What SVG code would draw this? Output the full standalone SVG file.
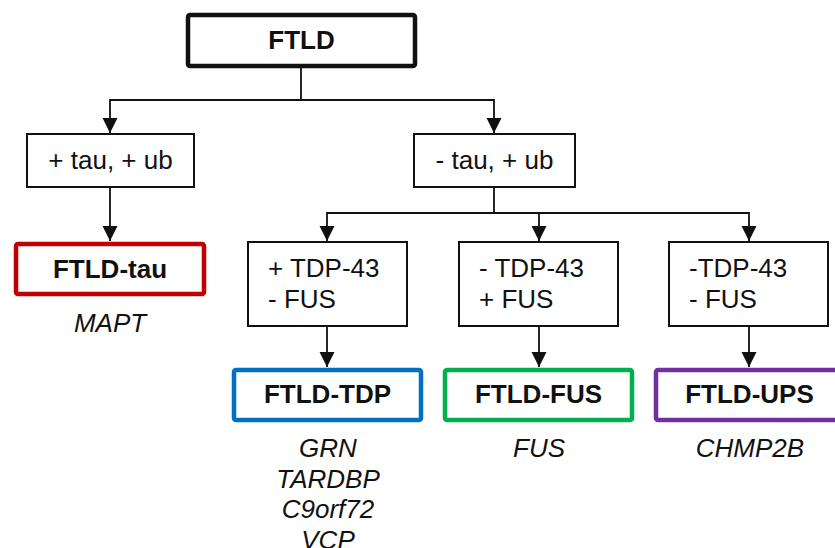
<svg xmlns="http://www.w3.org/2000/svg" width="835" height="548" viewBox="0 0 835 548">
<style>
text{font-family:"Liberation Sans",Arial,sans-serif;font-size:26px;fill:#111}
.b{font-weight:bold}
.i{font-style:italic}
.m{text-anchor:middle}
.box{fill:#fff;stroke:#111;stroke-width:2}
.thick{fill:#fff;stroke-width:4.5}
.line{fill:none;stroke:#111;stroke-width:1.8}
</style>
<defs>
<marker id="arr" markerUnits="userSpaceOnUse" markerWidth="16" markerHeight="16" viewBox="0 0 16 16" refX="15" refY="8" orient="auto">
<path d="M0,0.5 L15,8 L0,15.5 Z" fill="#111"/>
</marker>
</defs>
<g id="connectors">
<path class="line" d="M301,68 V100"/>
<path class="line" d="M301,100 H110 V133" marker-end="url(#arr)"/>
<path class="line" d="M301,100 H494 V133" marker-end="url(#arr)"/>
<path class="line" d="M110,188 V241" marker-end="url(#arr)"/>
<path class="line" d="M494,188 V213"/>
<path class="line" d="M494,213 H327 V241" marker-end="url(#arr)"/>
<path class="line" d="M494,213 H749 V241" marker-end="url(#arr)"/>
<path class="line" d="M539,213 V241" marker-end="url(#arr)"/>
<path class="line" d="M327,327 V367" marker-end="url(#arr)"/>
<path class="line" d="M539,327 V367" marker-end="url(#arr)"/>
<path class="line" d="M749,327 V367" marker-end="url(#arr)"/>
</g>
<g id="ftld">
<rect class="thick" x="188" y="15" width="227" height="51" rx="2" stroke="#111"/>
<text class="b m" x="301.5" y="49">FTLD</text>
</g>
<g id="tau-pos">
<rect class="box" x="27" y="134" width="167" height="53"/>
<text class="m" x="110.5" y="169">+ tau, + ub</text>
</g>
<g id="tau-neg">
<rect class="box" x="414" y="134" width="161" height="53"/>
<text class="m" x="494.5" y="169">- tau, + ub</text>
</g>
<g id="ftld-tau">
<rect class="thick" x="16" y="244" width="188" height="50" rx="2" stroke="#C00000"/>
<text class="b m" x="110" y="278">FTLD-tau</text>
<text class="i m" x="110" y="332">MAPT</text>
</g>
<g id="tdp-pos">
<rect class="box" x="248" y="242" width="159" height="84"/>
<text x="268" y="277">+ TDP-43</text>
<text x="268" y="308">- FUS</text>
</g>
<g id="fus-pos">
<rect class="box" x="459" y="242" width="159" height="84"/>
<text x="479" y="277">- TDP-43</text>
<text x="479" y="308">+ FUS</text>
</g>
<g id="both-neg">
<rect class="box" x="669" y="242" width="159" height="84"/>
<text x="689" y="277">-TDP-43</text>
<text x="689" y="308">- FUS</text>
</g>
<g id="ftld-tdp">
<rect class="thick" x="234" y="370" width="187" height="50" rx="2" stroke="#0070C0"/>
<text class="b m" x="327.5" y="403">FTLD-TDP</text>
<text class="i m" x="328" y="457">GRN</text>
<text class="i m" x="328" y="487.5">TARDBP</text>
<text class="i m" x="328" y="518">C9orf72</text>
<text class="i m" x="328" y="549">VCP</text>
</g>
<g id="ftld-fus">
<rect class="thick" x="445" y="370" width="187" height="50" rx="2" stroke="#00B050"/>
<text class="b m" x="538.5" y="403">FTLD-FUS</text>
<text class="i m" x="539" y="457">FUS</text>
</g>
<g id="ftld-ups">
<rect class="thick" x="656" y="370" width="187" height="50" rx="2" stroke="#7030A0"/>
<text class="b m" x="749.5" y="403">FTLD-UPS</text>
<text class="i m" x="750" y="457">CHMP2B</text>
</g>
</svg>
